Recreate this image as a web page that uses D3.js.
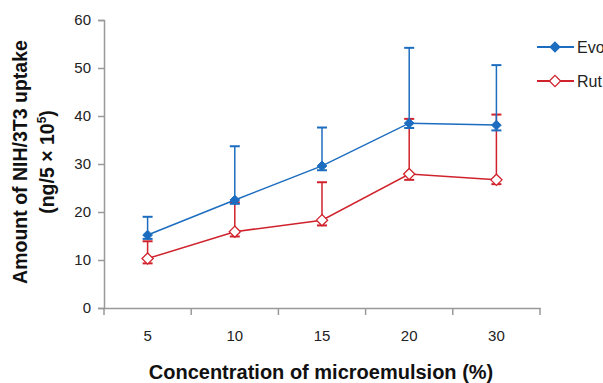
<!DOCTYPE html>
<meta charset="utf-8">
<script src="https://cdn.jsdelivr.net/npm/d3@7"></script>
<style>
body {margin: 0; background: #fff;}
text {font-family: Arial, "Liberation Sans", sans-serif;}
</style>
<div id="vis"></div>
<script>
// data
var categories = ["5", "10", "15", "20", "30"];
var evo = [15.2, 22.5, 29.6, 38.5, 38.1];
var evoUp = [19.0, 33.7, 37.6, 54.2, 50.6];
var evoLow = [14.4, 21.7, 28.7, 37.5, 37.0];
var rut = [10.3, 15.9, 18.3, 27.9, 26.7];
var rutUp = [13.9, 22.0, 26.2, 39.4, 40.3];
var rutLow = [9.3, 14.9, 17.2, 26.7, 25.8];
var yTicks = [0, 10, 20, 30, 40, 50, 60];

var width = 603, height = 383;
var blue = "#1c6dbf", red = "#d0222c";

var svg = d3.select("#vis").append("svg")
    .attr("width", width)
    .attr("height", height);

var x = d3.scaleBand().domain(categories).range([104, 540]);
var y = d3.scaleLinear().domain([0, 60]).range([308, 20]);

// axes
var yAxis = svg.append("g")
    .attr("transform", "translate(104,0)")
    .call(d3.axisLeft(y).tickValues(yTicks).tickSize(6).tickPadding(7));
var xAxis = svg.append("g")
    .attr("transform", "translate(0,308)")
    .call(d3.axisBottom(x).tickSize(0).tickPadding(22));

// band edge ticks on x axis
xAxis.selectAll(".edge")
    .data(categories.map(function(c) { return x(c); }).concat([x.range()[1]]))
    .enter().append("line")
    .attr("x1", function(d) { return d; })
    .attr("x2", function(d) { return d; })
    .attr("y1", 0).attr("y2", 7);

svg.selectAll(".domain, .tick line, .edge, g line").attr("stroke", "#999").attr("stroke-width", 1.5);
svg.selectAll(".tick text").attr("font-size", 15).attr("fill", "#222");

var line = d3.line()
    .x(function(d, i) { return x(categories[i]) + x.bandwidth() / 2; })
    .y(function(d) { return y(d); });

function drawSeries(vals, up, low, color, filled) {
  var g = svg.append("g");
  var cx = function(i) { return x(categories[i]) + x.bandwidth() / 2; };
  // error bars
  vals.forEach(function(v, i) {
    g.append("line").attr("x1", cx(i)).attr("x2", cx(i))
      .attr("y1", y(low[i])).attr("y2", y(up[i]))
      .attr("stroke", color).attr("stroke-width", 1.5);
    [up[i], low[i]].forEach(function(e) {
      g.append("line").attr("x1", cx(i) - 5).attr("x2", cx(i) + 5)
        .attr("y1", y(e)).attr("y2", y(e))
        .attr("stroke", color).attr("stroke-width", 2);
    });
  });
  g.append("path").datum(vals)
    .attr("d", line)
    .attr("fill", "none")
    .attr("stroke", color)
    .attr("stroke-width", 1.5);
  g.selectAll(".m").data(vals).enter().append("path")
    .attr("d", d3.symbol().type(d3.symbolDiamond2).size(filled ? 60 : 80))
    .attr("transform", function(d, i) { return "translate(" + cx(i) + "," + y(d) + ")"; })
    .attr("fill", filled ? color : "#fff")
    .attr("stroke", color)
    .attr("stroke-width", filled ? 1 : 1.3);
}

drawSeries(rut, rutUp, rutLow, red, false);
drawSeries(evo, evoUp, evoLow, blue, true);

// legend
var legend = [{name: "Evo", color: blue, filled: true}, {name: "Rut", color: red, filled: false}];
legend.forEach(function(l, i) {
  var ly = 47 + i * 34;
  svg.append("line").attr("x1", 537).attr("x2", 574).attr("y1", ly).attr("y2", ly)
    .attr("stroke", l.color).attr("stroke-width", 1.8);
  svg.append("path")
    .attr("d", d3.symbol().type(d3.symbolDiamond2).size(l.filled ? 60 : 80))
    .attr("transform", "translate(555," + ly + ")")
    .attr("fill", l.filled ? l.color : "#fff")
    .attr("stroke", l.color).attr("stroke-width", 1.3);
  svg.append("text").attr("x", 577).attr("y", ly + 6)
    .attr("font-size", 16).attr("fill", "#222").text(l.name);
});

// axis titles
svg.append("text")
  .attr("x", 321).attr("y", 379)
  .attr("text-anchor", "middle")
  .attr("font-size", 20).attr("font-weight", "bold").attr("fill", "#111")
  .text("Concentration of microemulsion (%)");

var yt = svg.append("text")
  .attr("transform", "translate(27,162) rotate(-90)")
  .attr("text-anchor", "middle")
  .attr("font-size", 19.5).attr("font-weight", "bold").attr("fill", "#111");
yt.append("tspan").attr("x", 0).attr("dy", 0).text("Amount of NIH/3T3 uptake");
yt.append("tspan").attr("x", 0).attr("dy", 27).text("(ng/5 \u00d7 10");
yt.append("tspan").attr("dy", -8).attr("font-size", 12).text("5");
yt.append("tspan").attr("dy", 8).text(")");
</script>
